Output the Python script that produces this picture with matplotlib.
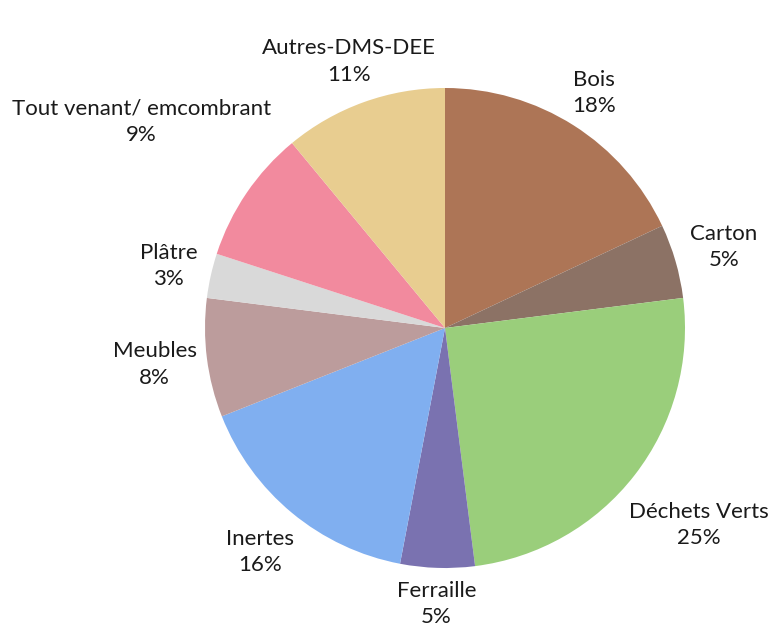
import matplotlib
matplotlib.use("Agg")
import matplotlib.pyplot as plt
import numpy as np

# parts du gisement (sens horaire depuis le haut)
categories = ["Bois", "Carton", "Déchets Verts", "Ferraille", "Inertes",
              "Meubles", "Plâtre", "Tout venant/ emcombrant", "Autres-DMS-DEE"]
parts = [18, 5, 25, 5, 16, 8, 3, 9, 11]
colors = ["#ad7556", "#8c7265", "#9ace7b", "#7a72b0", "#80aff0",
          "#bc9c9c", "#d9d9d9", "#f28a9e", "#e8cd90"]

# distance des etiquettes (facon "ajustement optimal" d'Excel)
label_dist = [1.16, 1.21, 1.34, 1.15, 1.21, 1.22, 1.18, 1.53, 1.18]

plt.rcParams["font.family"] = ["Lato", "DejaVu Sans"]

fig = plt.figure(figsize=(7.71, 6.26), dpi=100)
ax = fig.add_axes([0, 0, 1, 1])

wedges, _ = ax.pie(parts, colors=colors, startangle=90, counterclock=False,
                   wedgeprops={"linewidth": 0})

for w, cat, p, d in zip(wedges, categories, parts, label_dist):
    ang = np.deg2rad((w.theta1 + w.theta2) / 2)
    ax.text(d * np.cos(ang), d * np.sin(ang), f"{cat}\n{p}%",
            ha="center", va="center", multialignment="center",
            fontsize=16, linespacing=1.4, color="#1a1a1a")

# centre du camembert vers (445, 328) px, rayon 240 px
r_px = 240
cx, cy = 445, 626 - 328
ax.set_xlim(-cx / r_px, (771 - cx) / r_px)
ax.set_ylim(-cy / r_px, (626 - cy) / r_px)
ax.axis("off")

fig.savefig("out.png", dpi=100)
